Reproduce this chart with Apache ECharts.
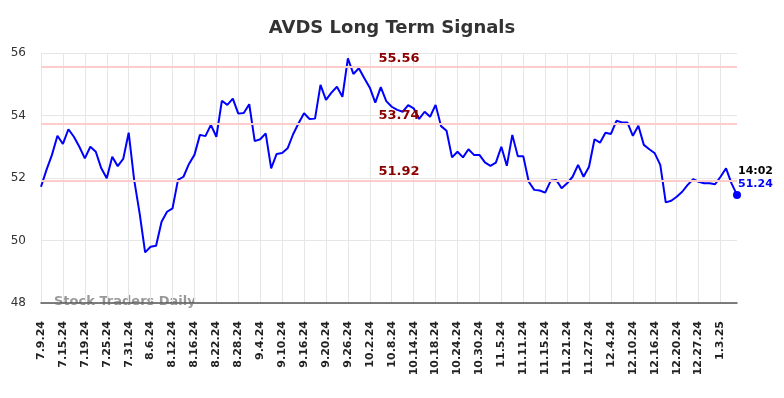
<!DOCTYPE html>
<html>
<head>
<meta charset="utf-8">
<script src="https://cdn.jsdelivr.net/npm/echarts@6/dist/echarts.min.js"></script>
<style>
  html, body { margin: 0; padding: 0; background: #fff; }
  #chart { width: 784px; height: 398px; }
</style>
</head>
<body>
<div id="chart"></div>
<script>
// trading days, 7.9.24 .. 1.8.25
const dates = [
  '7.9.24','7.10.24','7.11.24','7.12.24','7.15.24','7.16.24','7.17.24','7.18.24','7.19.24',
  '7.22.24','7.23.24','7.24.24','7.25.24','7.26.24','7.29.24','7.30.24','7.31.24',
  '8.1.24','8.2.24','8.5.24','8.6.24','8.7.24','8.8.24','8.9.24','8.12.24','8.13.24','8.14.24',
  '8.15.24','8.16.24','8.19.24','8.20.24','8.21.24','8.22.24','8.23.24','8.26.24','8.27.24',
  '8.28.24','8.29.24','8.30.24',
  '9.3.24','9.4.24','9.5.24','9.6.24','9.9.24','9.10.24','9.11.24','9.12.24','9.13.24','9.16.24',
  '9.17.24','9.18.24','9.19.24','9.20.24','9.23.24','9.24.24','9.25.24','9.26.24','9.27.24','9.30.24',
  '10.1.24','10.2.24','10.3.24','10.4.24','10.7.24','10.8.24','10.9.24','10.10.24','10.11.24',
  '10.14.24','10.15.24','10.16.24','10.17.24','10.18.24','10.21.24','10.22.24','10.23.24',
  '10.24.24','10.25.24','10.28.24','10.29.24','10.30.24','10.31.24',
  '11.1.24','11.4.24','11.5.24','11.6.24','11.7.24','11.8.24','11.11.24','11.12.24','11.13.24',
  '11.14.24','11.15.24','11.18.24','11.19.24','11.20.24','11.21.24','11.22.24','11.25.24',
  '11.26.24','11.27.24','11.29.24',
  '12.2.24','12.3.24','12.4.24','12.5.24','12.6.24','12.9.24','12.10.24','12.11.24','12.12.24',
  '12.13.24','12.16.24','12.17.24','12.18.24','12.19.24','12.20.24','12.23.24','12.24.24',
  '12.26.24','12.27.24','12.30.24','12.31.24',
  '1.2.25','1.3.25','1.6.25','1.7.25','1.8.25'
]

const prices = [
  51.72, 52.26, 52.74, 53.35, 53.09, 53.56, 53.32, 53.00, 52.63, 53.00,
  52.84, 52.31, 51.99, 52.68, 52.38, 52.61, 53.45, 51.94, 50.87, 49.62,
  49.80, 49.83, 50.60, 50.92, 51.03, 51.94, 52.04, 52.45, 52.74, 53.38,
  53.34, 53.70, 53.32, 54.47, 54.34, 54.54, 54.06, 54.08, 54.36, 53.18,
  53.24, 53.43, 52.31, 52.77, 52.80, 52.95, 53.40, 53.75, 54.07, 53.89,
  53.90, 54.98, 54.50, 54.73, 54.92, 54.60, 55.83, 55.33, 55.51, 55.19,
  54.89, 54.41, 54.91, 54.46, 54.28, 54.18, 54.12, 54.33, 54.23, 53.89,
  54.12, 53.96, 54.34, 53.66, 53.51, 52.66, 52.84, 52.66, 52.92, 52.74,
  52.74, 52.50, 52.39, 52.49, 53.00, 52.39, 53.38, 52.70, 52.70, 51.88,
  51.62, 51.60, 51.53, 51.91, 51.94, 51.67, 51.83, 52.04, 52.42, 52.04,
  52.36, 53.24, 53.13, 53.45, 53.41, 53.83, 53.78, 53.78, 53.35, 53.67,
  53.06, 52.92, 52.79, 52.42, 51.22, 51.27, 51.40, 51.56, 51.78, 51.96,
  51.88, 51.83, 51.83, 51.80, 52.04, 52.31, 51.83, 51.46
]

const signalLevels = [55.56, 53.74, 51.92]
const lastTime = '14:02'
const lastPrice = '51.24'
const yTicks = [48, 50, 52, 54, 56]

const chart = echarts.init(document.getElementById('chart'))

const lastIdx = prices.length - 1

const option = {
  animation: false,
  title: {
    text: 'AVDS Long Term Signals',
    left: 'center',
    top: 14,
    textStyle: { fontFamily: 'DejaVu Sans', fontSize: 18, fontWeight: 'bold', color: '#333' }
  },
  grid: { left: 41, right: 47, top: 53, bottom: 95 },
  xAxis: {
    type: 'category',
    data: dates,
    boundaryGap: false,
    axisLine: { lineStyle: { color: '#555', width: 1.5 } },
    axisTick: { show: false },
    axisLabel: {
      interval: 3,
      rotate: 90,
      margin: 18,
      fontFamily: 'DejaVu Sans',
      fontSize: 11,
      fontWeight: 'bold',
      color: '#222'
    },
    splitLine: { show: true, interval: 3, lineStyle: { color: '#e6e6e6', width: 1 } }
  },
  yAxis: {
    type: 'value',
    min: yTicks[0],
    max: yTicks[yTicks.length - 1],
    interval: 2,
    axisLine: { show: false },
    axisTick: { show: false },
    axisLabel: { margin: 15, fontFamily: 'DejaVu Sans', fontSize: 12, color: '#333' },
    splitLine: { lineStyle: { color: '#e6e6e6', width: 1 } }
  },
  graphic: [{
    type: 'text',
    left: 54,
    top: 295,
    style: {
      text: 'Stock Traders Daily',
      fontFamily: 'DejaVu Sans',
      fontSize: 13,
      fontWeight: 'bold',
      fill: 'rgba(128,128,128,0.8)'
    }
  }],
  series: [
    {
      type: 'line',
      data: prices,
      showSymbol: false,
      symbol: 'none',
      lineStyle: { color: '#0000ff', width: 2 },
      markLine: {
        silent: true,
        symbol: 'none',
        lineStyle: { color: '#ffcccc', width: 2, type: 'solid' },
        label: {
          position: 'insideMiddleTop',
          distance: 2,
          offset: [10, 0],
          color: '#8b0000',
          fontFamily: 'DejaVu Sans',
          fontSize: 13,
          fontWeight: 'bold',
          formatter: p => p.value.toFixed(2)
        },
        data: signalLevels.map(v => ({ yAxis: v }))
      },
      z: 3
    },
    {
      type: 'scatter',
      data: [[lastIdx, prices[lastIdx]]],
      symbol: 'circle',
      symbolSize: 8,
      itemStyle: { color: '#0000ff', opacity: 1 },
      label: {
        show: true,
        position: [5, -26],
        align: 'left',
        formatter: () => '{t|' + lastTime + '}\n{p|' + lastPrice + '}',
        rich: {
          t: { fontFamily: 'DejaVu Sans', fontSize: 11, fontWeight: 'bold', color: '#000', lineHeight: 13 },
          p: { fontFamily: 'DejaVu Sans', fontSize: 11, fontWeight: 'bold', color: '#0000ff', lineHeight: 13 }
        }
      },
      z: 4
    }
  ]
}

chart.setOption(option)
</script>
</body>
</html>
